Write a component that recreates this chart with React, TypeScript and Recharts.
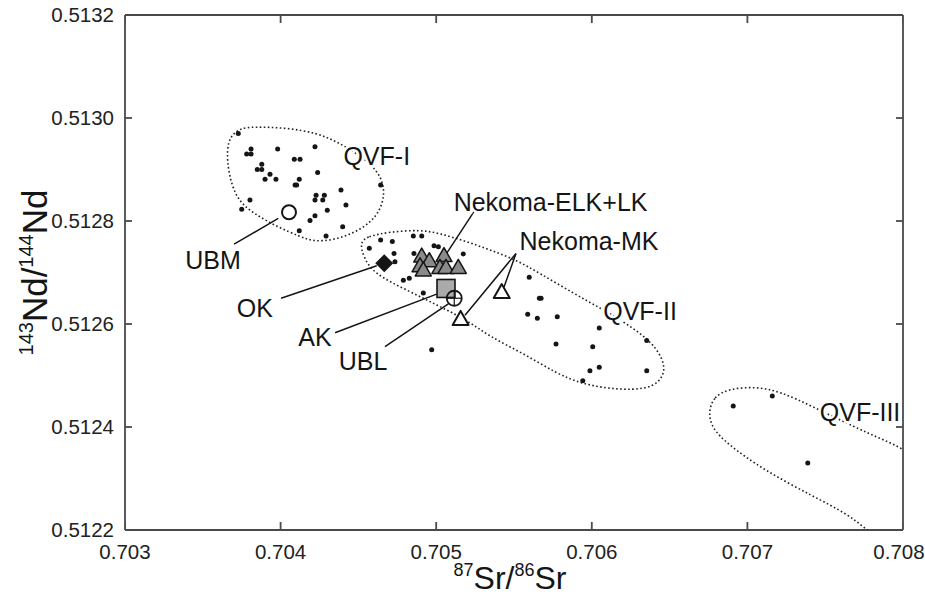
import { ScatterChart, Scatter, XAxis, YAxis, Label } from 'recharts';

type Pt = [number, number];

const srTicks = [0.703, 0.704, 0.705, 0.706, 0.707, 0.708];
const ndTicks = [0.5122, 0.5124, 0.5126, 0.5128, 0.513, 0.5132];

// 87Sr/86Sr, 143Nd/144Nd
const qvf1: Pt[] = [
  [0.703728, 0.51297], [0.703782, 0.51293], [0.70381, 0.51293], [0.70381, 0.51294],
  [0.703981, 0.51294], [0.704221, 0.512944], [0.704088, 0.51292], [0.704125, 0.51292],
  [0.70385, 0.5129], [0.703879, 0.5129], [0.703879, 0.51291], [0.703932, 0.512891],
  [0.7039, 0.512881], [0.70397, 0.512881], [0.704238, 0.512894], [0.70412, 0.512881],
  [0.704093, 0.51287], [0.704103, 0.51287], [0.704643, 0.51287], [0.704388, 0.51286],
  [0.703803, 0.512841], [0.704228, 0.51285], [0.704281, 0.51285], [0.704221, 0.512841],
  [0.704271, 0.512841], [0.70442, 0.512831], [0.70375, 0.512823], [0.7043, 0.512821],
  [0.704221, 0.51281], [0.704189, 0.512801], [0.704399, 0.512789], [0.70412, 0.512781],
  [0.704292, 0.512771],
];

const qvf2: Pt[] = [
  [0.70457, 0.512747], [0.704643, 0.512763], [0.704718, 0.51276], [0.704853, 0.512771],
  [0.704907, 0.512771], [0.704729, 0.512737], [0.704857, 0.512737], [0.704986, 0.512752],
  [0.705014, 0.51275], [0.705174, 0.512736], [0.704789, 0.512685], [0.704827, 0.512689],
  [0.704917, 0.51266], [0.704971, 0.51255], [0.705598, 0.512691], [0.705663, 0.51265],
  [0.705674, 0.51265], [0.705588, 0.512619], [0.70565, 0.512611], [0.705778, 0.512614],
  [0.706048, 0.512592], [0.706353, 0.512568], [0.70577, 0.512561], [0.706006, 0.512556],
  [0.705988, 0.512509], [0.706048, 0.512516], [0.705942, 0.51249], [0.706353, 0.512509],
  [0.704735, 0.512721],
];

const qvf3: Pt[] = [[0.706909, 0.512441], [0.70716, 0.51246], [0.707388, 0.51233]];

const nekomaElkLk: Pt[] = [
  [0.704907, 0.51273], [0.704956, 0.512721], [0.70505, 0.512731], [0.704896, 0.512711],
  [0.704917, 0.512703], [0.705024, 0.512708], [0.705063, 0.512708], [0.705142, 0.512708],
];
const nekomaMk: Pt[] = [[0.705157, 0.512608], [0.705421, 0.51266]];
const ubm: Pt[] = [[0.704054, 0.512817]];
const ok: Pt[] = [[0.704666, 0.512718]];
const ak: Pt[] = [[0.705063, 0.512669]];
const ubl: Pt[] = [[0.705116, 0.51265]];

// field outlines (dotted)
const hull1: Pt[] = [
  [0.703654, 0.512938], [0.703675, 0.512964], [0.703739, 0.51298], [0.703823, 0.512983],
  [0.704039, 0.512981], [0.704232, 0.512971], [0.704361, 0.512954], [0.70451, 0.512928],
  [0.704618, 0.512899], [0.70466, 0.512873], [0.704665, 0.512847], [0.704639, 0.512821],
  [0.704575, 0.512796], [0.704467, 0.512776], [0.704339, 0.512763], [0.70421, 0.51276],
  [0.704125, 0.51277], [0.703975, 0.512789], [0.703825, 0.512815], [0.703718, 0.512841],
  [0.703664, 0.512893],
];
const hull2: Pt[] = [
  [0.70451, 0.512757], [0.704553, 0.51277], [0.704703, 0.512779], [0.704896, 0.512783],
  [0.705024, 0.512776], [0.705196, 0.51276], [0.705346, 0.512744], [0.705517, 0.512724],
  [0.705667, 0.512698], [0.705881, 0.51266], [0.706053, 0.512631], [0.706224, 0.512601],
  [0.706395, 0.512563], [0.70647, 0.512524], [0.70646, 0.512498], [0.706395, 0.512478],
  [0.706267, 0.512472], [0.706096, 0.512475], [0.705924, 0.512485], [0.705774, 0.512504],
  [0.70556, 0.512543], [0.705346, 0.512575], [0.705196, 0.512608], [0.705003, 0.512637],
  [0.70481, 0.512666], [0.704596, 0.512698], [0.704532, 0.512731],
];
const hull3: Pt[] = [
  [0.706749, 0.512427], [0.706781, 0.512459], [0.706888, 0.512475], [0.70706, 0.512478],
  [0.70721, 0.512469], [0.707424, 0.512439], [0.707681, 0.512401], [0.707873, 0.512375],
  [0.708109, 0.512344], [0.708366, 0.51222], [0.707917, 0.512165], [0.707767, 0.512201],
  [0.707638, 0.512232], [0.707424, 0.512265], [0.707102, 0.512317], [0.706867, 0.512368],
  [0.706773, 0.512398],
];

// leader lines from labels to symbols
const leaders: Pt[][] = [
  [[0.703701, 0.512755], [0.703985, 0.512805]],
  [[0.704003, 0.51265], [0.704618, 0.512713]],
  [[0.70435, 0.512583], [0.705003, 0.512658]],
  [[0.704671, 0.512556], [0.705078, 0.512639]],
  [[0.705249, 0.512821], [0.705067, 0.512737]],
  [[0.705436, 0.512672], [0.705513, 0.512737], [0.705185, 0.512617]],
];

const labelNames = ['QVF-I', 'UBM', 'OK', 'AK', 'UBL', 'Nekoma-ELK+LK', 'Nekoma-MK', 'QVF-II', 'QVF-III'];
const labelAt: Pt[] = [
  [0.704618, 0.512925], [0.703566, 0.512723], [0.703835, 0.512631], [0.704221, 0.512575],
  [0.70453, 0.512527], [0.705735, 0.512837], [0.705982, 0.51276], [0.70631, 0.512624],
  [0.707724, 0.512428],
];

const toXY = (arr: Pt[]) => arr.map(([x, y]) => ({ x, y }));
const labelData = labelAt.map(([x, y], i) => ({ x, y, text: labelNames[i] }));

// inward tick marks on all four sides of the frame
const bottomTicks = srTicks.map((x) => ({ x, y: ndTicks[0] }));
const topTicks = srTicks.map((x) => ({ x, y: ndTicks[ndTicks.length - 1] }));
const leftTicks = ndTicks.map((y) => ({ x: srTicks[0], y }));
const rightTicks = ndTicks.map((y) => ({ x: srTicks[srTicks.length - 1], y }));

const FONT = '"Liberation Sans", Arial, Helvetica, sans-serif';
const INK = '#151515';
const FRAME = '#4a4a4a';

const Nothing = () => <g />;
const TickUp = (p: any) => <line x1={p.cx} y1={p.cy} x2={p.cx} y2={p.cy - 8} stroke={FRAME} strokeWidth={1.8} />;
const TickDown = (p: any) => <line x1={p.cx} y1={p.cy} x2={p.cx} y2={p.cy + 8} stroke={FRAME} strokeWidth={1.8} />;
const TickRight = (p: any) => <line x1={p.cx} y1={p.cy} x2={p.cx + 7} y2={p.cy} stroke={FRAME} strokeWidth={1.8} />;
const TickLeft = (p: any) => <line x1={p.cx} y1={p.cy} x2={p.cx - 7} y2={p.cy} stroke={FRAME} strokeWidth={1.8} />;

const SmallDot = (p: any) => <circle cx={p.cx} cy={p.cy} r={2.5} fill={INK} />;
const OpenCircle = (p: any) => (
  <circle cx={p.cx} cy={p.cy} r={7} fill="#fff" stroke={INK} strokeWidth={2} />
);
const CrossCircle = (p: any) => (
  <g stroke={INK}>
    <circle cx={p.cx} cy={p.cy} r={7.5} fill="none" strokeWidth={1.8} />
    <line x1={p.cx - 7.5} y1={p.cy} x2={p.cx + 7.5} y2={p.cy} strokeWidth={1.2} />
    <line x1={p.cx} y1={p.cy - 7.5} x2={p.cx} y2={p.cy + 7.5} strokeWidth={1.2} />
  </g>
);
const Diamond = (p: any) => (
  <path d={`M${p.cx},${p.cy - 9}L${p.cx + 9},${p.cy}L${p.cx},${p.cy + 9}L${p.cx - 9},${p.cy}Z`} fill={INK} />
);
const GraySquare = (p: any) => (
  <rect x={p.cx - 9} y={p.cy - 9} width={18} height={18} fill="#aaa" stroke={INK} strokeWidth={1.6} />
);
const tri = (cx: number, cy: number) => `M${cx},${cy - 9}L${cx + 8},${cy + 5}L${cx - 8},${cy + 5}Z`;
const GrayTriangle = (p: any) => (
  <path d={tri(p.cx, p.cy)} fill="#8a8a8a" stroke={INK} strokeWidth={1.5} strokeLinejoin="round" />
);
const OpenTriangle = (p: any) => (
  <path d={tri(p.cx, p.cy)} fill="#fff" stroke={INK} strokeWidth={2} strokeLinejoin="round" />
);
const NoteText = (p: any) => (
  <text
    x={p.cx}
    y={p.cy}
    dy="0.35em"
    textAnchor="middle"
    fontFamily={FONT}
    fontSize={25}
    fill={INK}
    stroke="#fff"
    strokeWidth={5}
    paintOrder="stroke"
  >
    {p.payload.text}
  </text>
);

const tickStyle = { fontSize: 20.5, fill: '#222', fontFamily: FONT };

// keeps the last x label (0.708) inside the page
const SrTick = (p: any) => {
  const x = Math.min(p.x, 899);
  return (
    <text x={x} y={p.y} dy="0.71em" textAnchor="middle" {...tickStyle}>
      {Number(p.payload.value).toFixed(3)}
    </text>
  );
};

const XTitle = (props: any) => {
  const vb = props.viewBox;
  const cx = vb.x + vb.width / 2 - 4;
  const by = vb.y + vb.height - 7;
  return (
    <text x={cx} y={by} textAnchor="middle" fontFamily={FONT} fill={INK}>
      <tspan fontSize={18} dy={-13}>87</tspan>
      <tspan fontSize={32} dy={13}>Sr/</tspan>
      <tspan fontSize={18} dy={-13}>86</tspan>
      <tspan fontSize={32} dy={13}>Sr</tspan>
    </text>
  );
};

const YTitle = (props: any) => {
  const vb = props.viewBox;
  const bx = vb.x + 47;
  const cy = vb.y + vb.height / 2;
  return (
    <text x={bx} y={cy} transform={`rotate(-90 ${bx} ${cy})`} textAnchor="middle" fontFamily={FONT} fill={INK}>
      <tspan fontSize={20} dy={-14}>143</tspan>
      <tspan fontSize={35} dy={14}>Nd/</tspan>
      <tspan fontSize={20} dy={-14}>144</tspan>
      <tspan fontSize={35} dy={14}>Nd</tspan>
    </text>
  );
};

const axisLine = { stroke: FRAME, strokeWidth: 1.8 };
const dotted = { stroke: '#222', strokeWidth: 1.6, strokeDasharray: '1.6 2.4' };
const leaderLine = { stroke: INK, strokeWidth: 1.5 };

export default function App() {
  return (
    <div style={{ position: 'absolute', left: 0, top: 0 }}>
      <ScatterChart width={925} height={596} margin={{ top: 14, right: 21, bottom: 0, left: 0 }}>
        <XAxis
          type="number"
          dataKey="x"
          domain={[0.703, 0.708]}
          ticks={srTicks}
          allowDataOverflow
          height={66}
          tick={SrTick}
          tickSize={-8}
          tickMargin={22}
          axisLine={axisLine}
          tickLine={false}
        >
          <Label content={XTitle} />
        </XAxis>
        <XAxis
          xAxisId="top"
          orientation="top"
          type="number"
          domain={[0.703, 0.708]}
          ticks={srTicks}
          allowDataOverflow
          height={1}
          tick={false}
          axisLine={axisLine}
          tickLine={false}
        />
        <YAxis
          type="number"
          dataKey="y"
          domain={[0.5122, 0.5132]}
          ticks={ndTicks}
          allowDataOverflow
          width={125}
          tickFormatter={(v: number) => v.toFixed(4)}
          tick={tickStyle}
          tickSize={-7}
          tickMargin={18}
          axisLine={axisLine}
          tickLine={false}
        >
          <Label content={YTitle} />
        </YAxis>
        <YAxis
          yAxisId="right"
          orientation="right"
          type="number"
          domain={[0.5122, 0.5132]}
          ticks={ndTicks}
          allowDataOverflow
          width={1}
          tick={false}
          axisLine={axisLine}
          tickLine={false}
        />

        <Scatter data={toXY(hull1)} line={dotted} lineJointType="basisClosed" shape={Nothing} isAnimationActive={false} />
        <Scatter data={toXY(hull2)} line={dotted} lineJointType="basisClosed" shape={Nothing} isAnimationActive={false} />
        <Scatter data={toXY(hull3)} line={dotted} lineJointType="basisClosed" shape={Nothing} isAnimationActive={false} />

        {leaders.map((seg, i) => (
          <Scatter key={i} data={toXY(seg)} line={leaderLine} shape={Nothing} isAnimationActive={false} />
        ))}

        <Scatter name="QVF-I" data={toXY(qvf1)} shape={SmallDot} isAnimationActive={false} />
        <Scatter name="QVF-II" data={toXY(qvf2)} shape={SmallDot} isAnimationActive={false} />
        <Scatter name="QVF-III" data={toXY(qvf3)} shape={SmallDot} isAnimationActive={false} />
        <Scatter name="Nekoma-ELK+LK" data={toXY(nekomaElkLk)} shape={GrayTriangle} isAnimationActive={false} />
        <Scatter name="AK" data={toXY(ak)} shape={GraySquare} isAnimationActive={false} />
        <Scatter name="UBL" data={toXY(ubl)} shape={CrossCircle} isAnimationActive={false} />
        <Scatter name="OK" data={toXY(ok)} shape={Diamond} isAnimationActive={false} />
        <Scatter name="UBM" data={toXY(ubm)} shape={OpenCircle} isAnimationActive={false} />
        <Scatter name="Nekoma-MK" data={toXY(nekomaMk)} shape={OpenTriangle} isAnimationActive={false} />

        <Scatter data={labelData} shape={NoteText} isAnimationActive={false} />

        <Scatter data={bottomTicks} shape={TickUp} isAnimationActive={false} />
        <Scatter data={topTicks} shape={TickDown} isAnimationActive={false} />
        <Scatter data={leftTicks} shape={TickRight} isAnimationActive={false} />
        <Scatter data={rightTicks} shape={TickLeft} isAnimationActive={false} />
      </ScatterChart>
    </div>
  );
}
